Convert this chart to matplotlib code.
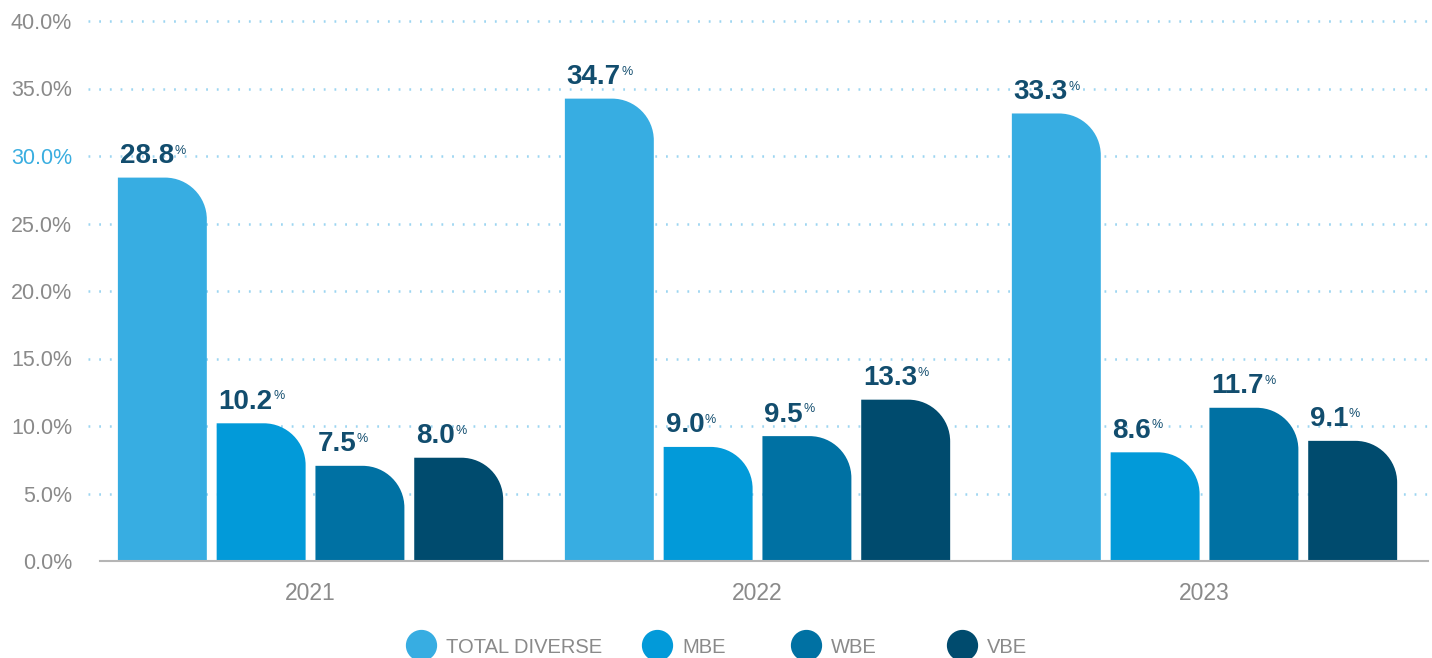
import numpy as np
import matplotlib

matplotlib.use("Agg")
import matplotlib.pyplot as plt
from matplotlib.path import Path
from matplotlib.patches import PathPatch

years = ["2021", "2022", "2023"]
series = ["TOTAL DIVERSE", "MBE", "WBE", "VBE"]
colors = ["#37ADE2", "#029AD9", "#0071A3", "#004B6E"]

# values printed on the labels
total_lbl = [28.8, 34.7, 33.3]
mbe_lbl = [10.2, 9.0, 8.6]
wbe_lbl = [7.5, 9.5, 11.7]
vbe_lbl = [8.0, 13.3, 9.1]

# bar heights as they are drawn in the picture (not always equal to the label)
total_bar = [28.4, 34.25, 33.15]
mbe_bar = [10.2, 8.45, 8.05]
wbe_bar = [7.05, 9.25, 11.35]
vbe_bar = [7.65, 11.95, 8.9]

yticks = [0, 5, 10, 15, 20, 25, 30, 35, 40]
ytick_labels = ["0.0%", "5.0%", "10.0%", "15.0%", "20.0%", "25.0%", "30.0%", "35.0%", "40.0%"]

LABEL_COLOR = "#124D6E"
GRAY = "#8A8A8A"

plt.rcParams.update({
    "font.family": ["Liberation Sans", "DejaVu Sans"],
    "lines.scale_dashes": False,
})

W, H = 1432, 658
fig = plt.figure(figsize=(W / 100, H / 100), dpi=100)
ax = fig.add_axes([100 / W, 97 / H, 1328 / W, 540 / H])
ax.set_xlim(-0.471, 2.5)
ax.set_ylim(0, 40)

# dotted grid, a little wider than the axes on the left
ax.hlines(yticks[1:], -0.009, 1.0, transform=ax.get_yaxis_transform(),
          colors="#9CD5F1", linewidth=1.8, linestyles=(0, (1.3, 6.4)),
          clip_on=False, zorder=0)

x = np.arange(len(years))
pitch = 0.221
width = 0.199
heights = [total_bar, mbe_bar, wbe_bar, vbe_bar]
labels = [total_lbl, mbe_lbl, wbe_lbl, vbe_lbl]

# radius of the rounded top-right corner, kept circular on screen
px_per_x = 1328 / (2.5 + 0.471)
px_per_y = 540 / 40
rx = width * 0.47
ry = rx * px_per_x / px_per_y
k = 0.5523

for i, (hs, ls, c) in enumerate(zip(heights, labels, colors)):
    bars = ax.bar(x + (i - 1.5) * pitch, hs, width=width, color=c, zorder=2)
    for b, lv in zip(bars, ls):
        b.set_visible(False)
        x0 = b.get_x()
        x1 = x0 + b.get_width()
        h = b.get_height()
        verts = [(x0, 0), (x0, h), (x1 - rx, h),
                 (x1 - rx + k * rx, h), (x1, h - ry + k * ry), (x1, h - ry),
                 (x1, 0), (x0, 0)]
        codes = [Path.MOVETO, Path.LINETO, Path.LINETO,
                 Path.CURVE4, Path.CURVE4, Path.CURVE4,
                 Path.LINETO, Path.CLOSEPOLY]
        ax.add_patch(PathPatch(Path(verts, codes), facecolor=c,
                               edgecolor="none", zorder=2))
        t = ax.annotate(f"{lv:.1f}", xy=(x0, h), xytext=(1.4, 10.5),
                        textcoords="offset points", ha="left", va="baseline",
                        fontsize=20, fontweight="bold", color=LABEL_COLOR)
        ax.annotate("%", xy=(1, 1), xycoords=t, xytext=(0.2, -1.2),
                    textcoords="offset points", ha="left", va="top",
                    fontsize=9, color=LABEL_COLOR)

ax.set_yticks(yticks)
ax.set_yticklabels(ytick_labels)
ax.set_xticks(x)
ax.set_xticklabels(years)
ax.tick_params(axis="y", length=0, pad=20, labelsize=15.5, labelcolor=GRAY)
ax.tick_params(axis="x", length=0, pad=15, labelsize=16.5, labelcolor=GRAY)
ax.get_yticklabels()[6].set_color("#3AAEE0")

for s in ["top", "right", "left"]:
    ax.spines[s].set_visible(False)
ax.spines["bottom"].set_color("#B5B5B5")
ax.spines["bottom"].set_linewidth(1.5)
ax.spines["bottom"].set_zorder(3)

# legend drawn by hand: circles and labels at the bottom
leg_x = [421, 657, 806, 962]
leg_y = 645
for lx, name, c in zip(leg_x, series, colors):
    fig.add_artist(plt.Line2D([lx / W], [1 - leg_y / H], marker="o",
                              markersize=21.5, color=c, linestyle="none",
                              transform=fig.transFigure))
    fig.text((lx + 25) / W, 1 - 653 / H, name, ha="left", va="baseline",
             fontsize=14.5, color=GRAY)

fig.savefig("out.png", dpi=100)
